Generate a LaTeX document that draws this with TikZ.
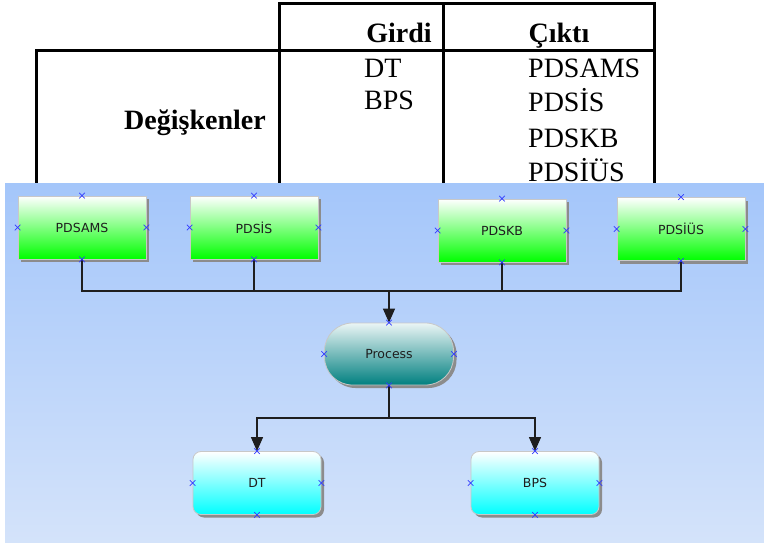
\documentclass[tikz,border=0pt]{standalone}
\usepackage{fontspec}
\setmainfont{Liberation Serif}
\newfontfamily\boxfont{DejaVu Sans}
\usetikzlibrary{arrows.meta,shadows,shapes.misc}

\definecolor{bgtop}{RGB}{164,198,250}
\definecolor{bgbot}{RGB}{212,227,250}
\definecolor{edgegray}{RGB}{200,200,200}
\definecolor{markblue}{RGB}{50,60,255}
\definecolor{linedark}{RGB}{30,30,30}

\tikzset{
  tabline/.style={line width=3pt,line join=miter},
  tabhead/.style={font=\fontsize{28}{32}\selectfont\bfseries,inner sep=0pt},
  tabcell/.style={font=\fontsize{28}{32}\selectfont,inner sep=0pt,anchor=base west},
  flowbox/.style={draw=edgegray,line width=0.8pt,text=linedark,
    font=\boxfont\fontsize{12.5}{14}\selectfont,
    minimum width=128pt,minimum height=63pt,
    drop shadow={shadow xshift=3pt,shadow yshift=-3pt,fill=black!45,opacity=1}},
  outbox/.style={flowbox,top color=white,bottom color=green},
  procbox/.style={flowbox,top color=white!92!teal,bottom color=teal,
    minimum width=129pt,minimum height=62pt,rounded corners=28pt},
  inbox/.style={flowbox,top color=white,bottom color=cyan,rounded corners=8pt},
  xmark/.style={cross out,draw=markblue,minimum size=5pt,inner sep=0pt,line width=0.6pt},
  link/.style={draw=linedark,line width=1.2pt},
  arr/.style={link,-{Triangle[length=14pt,width=12pt]}}
}

\begin{document}
\begin{tikzpicture}[x=1pt,y=-1pt]
\useasboundingbox (0,0) rectangle (764,543);

% table
\draw[tabline] (279,183) -- (279,4) -- (654,4) -- (654,183);
\draw[tabline] (36,183) -- (36,51) -- (654,51);
\draw[tabline] (443,4) -- (443,183);

\node[tabhead,anchor=base] (girdi) at (399,43) {Girdi};
\node[tabhead,anchor=base] (cikti) at (559,43) {Çıktı};
\node[tabhead,anchor=base] (degisken) at (195,130) {Değişkenler};
\node[tabcell] (inDT) at (364,78) {DT};
\node[tabcell] (inBPS) at (364,110) {BPS};
\node[tabcell] (outAMS) at (528,78) {PDSAMS};
\node[tabcell] (outIS) at (528,112) {PDSİS};
\node[tabcell] (outKB) at (528,147) {PDSKB};
\node[tabcell] (outIUS) at (528,182) {PDSİÜS};

% model
\shade[top color=bgtop,bottom color=bgbot] (5,183) rectangle (764,543);

\begin{scope}
  \node[outbox] (pdsams) at (82,227.5) {PDSAMS};
  \node[outbox] (pdsis) at (254,227.5) {PDSİS};
  \node[outbox] (pdskb) at (502,230.5) {PDSKB};
  \node[outbox] (pdsius) at (681,229) {PDSİÜS};
  \node[procbox] (process) at (389,354) {Process};
  \node[inbox] (dt) at (257,483) {DT};
  \node[inbox] (bps) at (535,483) {BPS};
\end{scope}

\coordinate (join) at (389,291);
\coordinate (split) at (389,418);

\draw[link] (pdsams.south) |- (join);
\draw[link] (pdsis.south) |- (join);
\draw[link] (pdskb.south) |- (join);
\draw[link] (pdsius.south) |- (join);
\draw[arr] (join) -- (process.north);
\draw[link] (process.south) -- (split);
\draw[arr] (split) -| (dt.north);
\draw[arr] (split) -| (bps.north);

\foreach \n in {pdsams,pdsis,pdskb,pdsius,process,dt,bps}
  \foreach \a in {north,south,east,west}
    \node[xmark] at (\n.\a) {};
\end{tikzpicture}
\end{document}
